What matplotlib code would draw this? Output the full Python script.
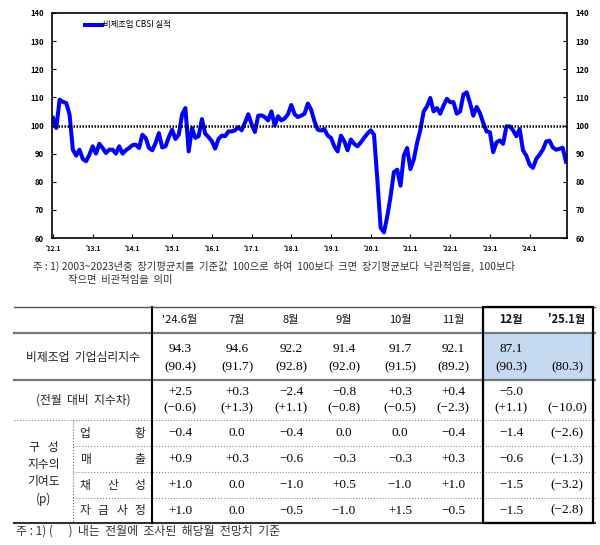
import matplotlib.pyplot as plt
import matplotlib.patches as mpatches
import numpy as np

plt.rcParams['font.family'] = ['Noto Sans CJK KR', 'DejaVu Sans']

# 비제조업 CBSI 실적, 2012.1 ~ 2024.12 (monthly)
cbsi = [
    102.7, 99.1, 109.2, 108.4, 108.0, 103.9, 91.4, 89.3, 91.4, 88.1, 87.3, 89.6,   # 2012
    92.6, 90.0, 93.5, 92.0, 90.2, 91.4, 91.4, 90.0, 92.6, 90.0, 91.2, 92.0,        # 2013
    93.0, 93.2, 92.0, 96.7, 95.6, 92.0, 91.2, 93.8, 97.3, 92.2, 92.6, 95.9,        # 2014
    98.5, 95.2, 96.7, 103.9, 106.2, 90.8, 99.1, 95.6, 96.2, 102.3, 97.1, 95.9,     # 2015
    94.4, 91.8, 95.2, 96.4, 96.2, 97.9, 97.9, 98.3, 99.4, 98.3, 101.0, 104.0,      # 2016
    100.5, 97.7, 103.5, 103.6, 103.0, 101.8, 105.0, 100.0, 103.3, 101.8, 102.5, 104.0,  # 2017
    107.3, 104.0, 103.0, 103.5, 104.2, 107.8, 105.6, 101.5, 98.5, 98.2, 98.7, 96.4,     # 2018
    95.6, 92.6, 90.8, 96.4, 94.4, 91.2, 95.0, 93.5, 92.6, 94.0, 95.6, 97.1,        # 2019
    98.3, 96.7, 80.7, 63.6, 62.0, 67.7, 74.8, 83.4, 84.3, 78.6, 89.3, 92.0,        # 2020
    84.5, 87.9, 93.8, 98.5, 105.0, 106.8, 109.8, 105.0, 106.2, 104.2, 107.1, 109.5,  # 2021
    108.3, 108.3, 104.2, 105.0, 111.0, 111.8, 108.0, 103.5, 106.6, 104.4, 100.9, 97.9,  # 2022
    97.6, 90.5, 94.0, 94.7, 93.5, 99.7, 99.7, 98.3, 96.2, 98.7, 91.2, 89.3,        # 2023
    86.1, 84.9, 88.1, 89.6, 91.4, 94.3, 94.6, 92.2, 91.4, 91.7, 92.1, 87.1,        # 2024
]
tick_labels = ["'%d.1" % y for y in range(12, 25)]

# table
months = ["'24.6월", '7월', '8월', '9월', '10월', '11월', '12월', "'25.1월"]
index_now = ['94.3', '94.6', '92.2', '91.4', '91.7', '92.1', '87.1', '']
index_prev = ['(90.4)', '(91.7)', '(92.8)', '(92.0)', '(91.5)', '(89.2)', '(90.3)', '(80.3)']
diff_now = ['+2.5', '+0.3', '−2.4', '−0.8', '+0.3', '+0.4', '−5.0', '']
diff_prev = ['(−0.6)', '(+1.3)', '(+1.1)', '(−0.8)', '(−0.5)', '(−2.3)', '(+1.1)', '(−10.0)']
comp_names = ['업황', '매출', '채산성', '자금사정']
comp_values = [
    ['−0.4', '0.0', '−0.4', '0.0', '0.0', '−0.4', '−1.4', '(−2.6)'],
    ['+0.9', '+0.3', '−0.6', '−0.3', '−0.3', '+0.3', '−0.6', '(−1.3)'],
    ['+1.0', '0.0', '−1.0', '+0.5', '−1.0', '+1.0', '−1.5', '(−3.2)'],
    ['+1.0', '0.0', '−0.5', '−1.0', '+1.5', '−0.5', '−1.5', '(−2.8)'],
]

W, H = 600, 545
fig = plt.figure(figsize=(6, 5.45), dpi=100)

# ---- line chart ----
ax = fig.add_axes([52 / W, 1 - 238 / H, 515 / W, 225 / H])
x = np.arange(len(cbsi))
ax.plot(x, cbsi, color='#0000FF', lw=2.9, label='비제조업 CBSI 실적', solid_joinstyle='round')
ax.axhline(100, color='black', lw=1.8, ls=(0, (0.6, 0.6)))
ax.set_xlim(-0.3, len(cbsi) - 0.7)
ax.set_ylim(60, 140)
ax.set_yticks(range(60, 141, 10))
ax.set_xticks(range(0, len(cbsi), 12))
ax.set_xticklabels(tick_labels)
ax.tick_params(axis='y', direction='in', length=3, labelsize=5.5, right=True, labelright=True, pad=6)
ax.tick_params(axis='x', direction='in', length=3, labelsize=4.5, pad=5)
for lab in ax.get_xticklabels() + ax.get_yticklabels(which='both'):
    lab.set_fontweight('bold')
for t in ax.yaxis.get_major_ticks():
    t.label2.set_fontweight('bold')
for s in ax.spines.values():
    s.set_linewidth(1.2)
ax.legend(loc='upper left', bbox_to_anchor=(0.05, 1.0), frameon=False, fontsize=6,
          handlelength=2.0, handletextpad=0.1)

# ---- overlay for notes and table (pixel coords) ----
tx = fig.add_axes([0, 0, 1, 1])
tx.set_xlim(0, W)
tx.set_ylim(H, 0)
tx.axis('off')

note_col = '#333333'
tx.text(33, 266, '주 : 1) 2003~2023년중  장기평균치를  기준값  100으로  하여  100보다  크면  장기평균보다  낙관적임을,  100보다',
        fontsize=7.45, color=note_col, va='center', ha='left')
tx.text(68, 280, '작으면  비관적임을  의미', fontsize=7.45, color=note_col, va='center', ha='left')

num_font = ['Liberation Serif', 'DejaVu Serif']
col_x = [180, 237, 291, 344, 400, 453, 511, 567]
left, right = 14, 595
ytop, yhead, yr1, yr2 = 307, 333, 380, 420
sub_edges = [420, 446, 472, 498, 523]

# highlight
tx.add_patch(mpatches.Rectangle((483, yhead), right - 2 - 483, yr1 - yhead,
                                facecolor='#C5D9F1', edgecolor='none', zorder=0))

tx.plot([left, right], [ytop, ytop], color='#555555', lw=1.0)
tx.plot([left, right], [yhead, yhead], color='#777777', lw=1.6)
tx.plot([left, right], [yr1, yr1], color='#777777', lw=1.6)
tx.plot([left, right], [yr2, yr2], color='#888888', lw=0.8, ls=':')
for yy in sub_edges[1:-1]:
    tx.plot([73, right], [yy, yy], color='#888888', lw=0.8, ls=':')
tx.plot([left, right], [523, 523], color='#333333', lw=1.5)
tx.plot([152, 152], [ytop, 523], color='black', lw=1.5)
tx.plot([73, 73], [yr2, 523], color='#666666', lw=0.8, ls=':')
tx.add_patch(mpatches.Rectangle((483, ytop), right - 2 - 483, 523 - ytop,
                                facecolor='none', edgecolor='black', lw=1.6, zorder=3))

for i, (m, cx) in enumerate(zip(months, col_x)):
    bold = i >= 6
    tx.text(cx, 320, m, fontsize=8, ha='center', va='center',
            fontweight='bold' if bold else 'normal', color='#111111')
    tx.text(cx, 349, index_now[i], fontsize=9.5, ha='center', va='center', family=num_font)
    tx.text(cx, 367, index_prev[i], fontsize=9.5, ha='center', va='center', family=num_font)
    tx.text(cx, 392, diff_now[i], fontsize=9.5, ha='center', va='center', family=num_font)
    tx.text(cx, 408, diff_prev[i], fontsize=9.5, ha='center', va='center', family=num_font)
    for r, vals in enumerate(comp_values):
        yc = (sub_edges[r] + sub_edges[r + 1]) / 2
        tx.text(cx, yc, vals[i], fontsize=9.5, ha='center', va='center', family=num_font)

tx.text(83, 358, '비제조업  기업심리지수', fontsize=8.5, ha='center', va='center', color='#222222')
tx.text(83, 400, '(전월  대비  지수차)', fontsize=8.5, ha='center', va='center', color='#222222')
for j, line in enumerate(['구   성', '지수의', '기여도', '(p)']):
    tx.text(44, 447 + j * 17.5, line, fontsize=8.5, ha='center', va='center', color='#222222')
for r, name in enumerate(comp_names):
    yc = (sub_edges[r] + sub_edges[r + 1]) / 2
    xs = np.linspace(85, 140, len(name))
    for ch, xc in zip(name, xs):
        tx.text(xc, yc, ch, fontsize=8.5, ha='center', va='center', color='#222222')

tx.text(16, 531, '주 : 1) (      )  내는  전월에  조사된  해당월  전망치  기준', fontsize=8.6,
        color=note_col, ha='left', va='center')

fig.savefig('out.png', dpi=100)
